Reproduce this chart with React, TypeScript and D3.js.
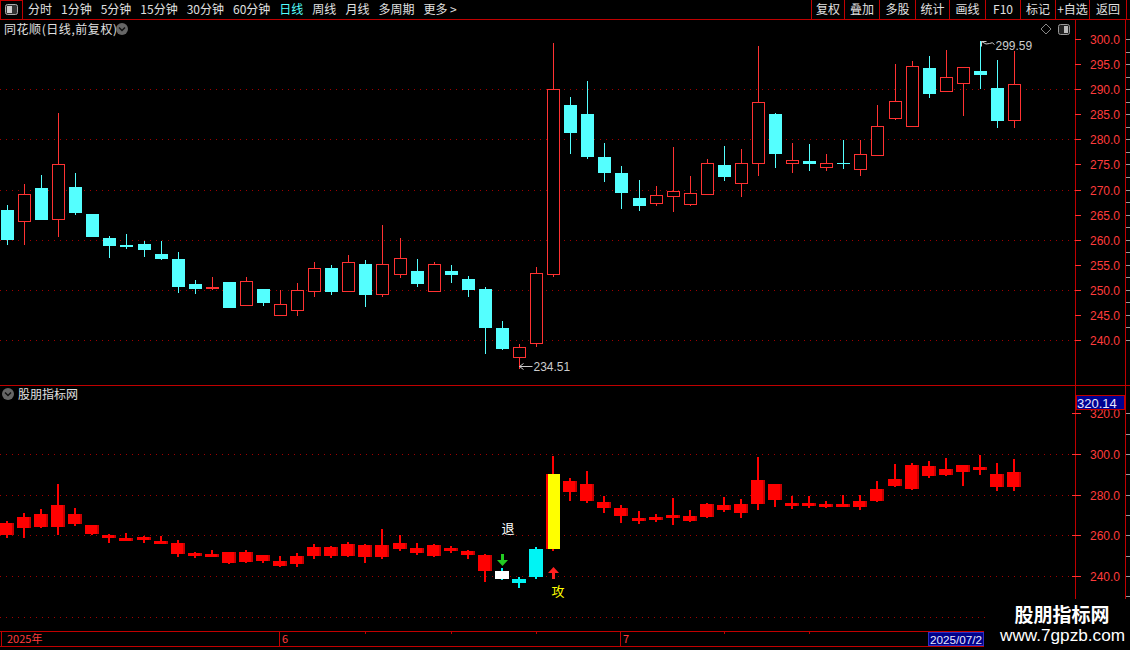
import { useRef, useEffect } from 'react';
import * as d3 from 'd3';

// K 線資料
const opens = [
  265.9, 263.8, 270.3, 264.1, 270.5, 265.1, 260.3, 258.9, 259.1, 257.1,
  256.1, 251.2, 250.3, 251.6, 247.0, 250.2, 245.0, 246.0, 249.8, 254.4,
  249.8, 255.2, 249.1, 253.1, 253.8, 249.7, 253.8, 252.2, 250.2, 242.4,
  236.7, 239.5, 253.2, 286.8, 285.1, 276.5, 273.3, 268.3, 267.4, 268.8,
  267.2, 269.2, 274.9, 271.2, 275.2, 285.1, 275.2, 275.7, 274.5, 275.25,
  274.1, 276.9, 284.3, 282.7, 294.2, 289.7, 291.2, 293.6, 290.2, 283.8,
];
const closes = [
  260.1, 269.2, 264.1, 275.1, 265.5, 260.7, 258.9, 258.8, 258.1, 256.3,
  250.8, 250.4, 250.6, 246.6, 251.8, 247.6, 247.2, 250.0, 254.4, 249.8,
  255.5, 249.2, 255.1, 256.3, 251.4, 255.1, 253.2, 250.2, 242.5, 238.5,
  238.7, 253.3, 290.0, 281.5, 276.7, 273.4, 269.6, 267.0, 268.9, 269.8,
  269.4, 275.2, 272.6, 275.2, 287.4, 277.3, 275.8, 275.3, 275.2, 275.2,
  277.0, 282.6, 287.6, 294.6, 289.3, 292.4, 294.4, 293.1, 283.9, 291.0,
];
const highs = [
  266.9, 271.1, 272.9, 285.2, 273.3, 265.1, 260.7, 261.1, 259.7, 259.7,
  257.5, 252.0, 252.6, 251.6, 252.6, 250.2, 250.0, 251.4, 255.6, 254.9,
  256.9, 255.9, 262.9, 260.3, 256.1, 255.5, 254.9, 252.8, 250.6, 243.8,
  239.3, 254.5, 299.2, 288.4, 291.6, 279.3, 274.7, 271.9, 270.7, 278.5,
  272.7, 276.1, 278.7, 278.1, 298.6, 285.3, 279.3, 279.1, 277.1, 279.9,
  279.9, 286.8, 295.0, 295.6, 296.6, 297.8, 294.4, 299.59, 295.8, 297.6,
];
const lows = [
  259.1, 259.1, 264.1, 260.8, 265.1, 260.7, 256.5, 258.3, 256.7, 256.1,
  249.6, 249.4, 250.2, 246.6, 247.0, 247.0, 245.0, 245.0, 248.8, 249.2,
  249.8, 246.8, 248.8, 252.6, 250.8, 249.7, 251.6, 248.8, 237.5, 238.3,
  234.51, 238.9, 252.8, 277.3, 276.3, 271.6, 266.4, 266.0, 267.0, 265.8,
  267.0, 269.2, 271.8, 268.8, 272.8, 274.5, 273.5, 273.9, 273.9, 274.3,
  272.8, 276.9, 284.1, 282.7, 288.5, 289.7, 284.9, 290.3, 282.5, 282.5,
];

const toolbarItems = ['分时', '1分钟', '5分钟', '15分钟', '30分钟', '60分钟', '日线', '周线', '月线', '多周期', '更多 >'];
const activeItem = '日线';
const rightButtons = ['复权', '叠加', '多股', '统计', '画线', 'F10', '标记', '+自选', '返回'];

const mainTicks = [300, 295, 290, 285, 280, 275, 270, 265, 260, 255, 250, 245, 240];
const mainGrid = [290, 280, 270, 260, 250, 240];
const lowerTicks = [320, 300, 280, 260, 240];
const lowerGrid = [300, 280, 260, 240, 220];
const monthLabels = [
  { index: 0, label: '2025年' },
  { index: 16, label: '6' },
  { index: 36, label: '7' },
];
// 副圖特殊顏色 K 線
const specialKinds: Record<number, string> = { 29: 'white', 30: 'cyan', 31: 'cyan', 32: 'yellow' };
const exitIndex = 29;   // 退
const attackIndex = 32; // 攻
const maxLabel = '299.59';
const minLabel = '234.51';
const lowerTopValue = '320.14';
const cursorDate = '2025/07/2';

const RED = '#ff3232';
const CYAN = '#54ffff';
const LINE = '#c00000';
const GRID = '#a00000';
const CJK = "'Noto Sans CJK SC', sans-serif";
const NUM = "'Liberation Sans', Arial, sans-serif";

export default function App() {
  const svgRef = useRef<SVGSVGElement | null>(null);

  useEffect(() => {
    const width = 1130, height = 650;
    const svg = d3.select(svgRef.current);
    svg.selectAll('*').remove();
    svg.attr('width', width).attr('height', height);

    svg.append('rect').attr('width', width).attr('height', height).attr('fill', '#000');

    const n = opens.length;
    const x = d3.scalePoint<number>().domain(d3.range(n)).range([7, 1014]);
    const yMain = d3.scaleLinear().domain([240, 300]).range([340, 39]);
    const yLow = d3.scaleLinear().domain([240, 300]).range([576, 454]);
    const axisX = 1075;

    // ---------------- 工具列
    const tb = svg.append('g');
    tb.append('line').attr('x1', 0).attr('x2', width).attr('y1', 19.5).attr('y2', 19.5).attr('stroke', LINE);
    tb.append('rect').attr('x', 0.5).attr('y', 0.5).attr('width', 22).attr('height', 19).attr('fill', 'none').attr('stroke', LINE);
    tb.append('rect').attr('x', 5.5).attr('y', 4.5).attr('width', 12).attr('height', 10).attr('rx', 2).attr('fill', '#333').attr('stroke', '#aaa');
    tb.append('rect').attr('x', 7).attr('y', 6).attr('width', 5).attr('height', 7).attr('fill', '#ccc');

    let tx = 28;
    toolbarItems.forEach(label => {
      const t = tb.append('text')
        .attr('x', tx).attr('y', 14)
        .attr('font-family', CJK).attr('font-size', 12)
        .attr('fill', label === activeItem ? CYAN : '#e0e0e0')
        .text(label);
      const len = (t.node() as SVGTextElement).getComputedTextLength();
      tx += len + 9;
    });

    const edges = [811, 844, 879, 915, 949, 985, 1020, 1055, 1089, 1126];
    edges.forEach(e => {
      tb.append('line').attr('x1', e + 0.5).attr('x2', e + 0.5).attr('y1', 0).attr('y2', 19).attr('stroke', LINE);
    });
    rightButtons.forEach((label, i) => {
      tb.append('text')
        .attr('x', (edges[i] + edges[i + 1]) / 2 + 0.5).attr('y', 14)
        .attr('text-anchor', 'middle')
        .attr('font-family', CJK).attr('font-size', 12)
        .attr('fill', '#e0e0e0')
        .text(label);
    });

    // ---------------- 面板框線
    const frame = svg.append('g');
    frame.append('line').attr('x1', 0).attr('x2', width).attr('y1', 385.5).attr('y2', 385.5).attr('stroke', LINE);
    frame.append('line').attr('x1', axisX + 0.5).attr('x2', axisX + 0.5).attr('y1', 20).attr('y2', 631).attr('stroke', LINE);
    frame.append('line').attr('x1', 1125.5).attr('x2', 1125.5).attr('y1', 20).attr('y2', 631).attr('stroke', LINE);

    // 標題
    svg.append('text').attr('x', 4).attr('y', 34)
      .attr('font-family', CJK).attr('font-size', 12).attr('fill', '#e0e0e0')
      .attr('textLength', 113).attr('lengthAdjust', 'spacing')
      .text('同花顺(日线,前复权)');
    const drawCircleIcon = (cx: number, cy: number) => {
      svg.append('circle').attr('cx', cx).attr('cy', cy).attr('r', 6).attr('fill', '#666');
      svg.append('path').attr('d', `M${cx - 3},${cy - 1.5} L${cx},${cy + 1.5} L${cx + 3},${cy - 1.5}`)
        .attr('fill', 'none').attr('stroke', '#111').attr('stroke-width', 1.5);
    };
    drawCircleIcon(122, 29);
    drawCircleIcon(8, 394);
    svg.append('text').attr('x', 18).attr('y', 399)
      .attr('font-family', CJK).attr('font-size', 12).attr('fill', '#e0e0e0')
      .text('股朋指标网');

    // 右上角小圖示
    svg.append('path').attr('d', 'M1046,24 L1051,29 L1046,34 L1041,29 Z').attr('fill', 'none').attr('stroke', '#888');
    svg.append('rect').attr('x', 1058.5).attr('y', 24.5).attr('width', 11).attr('height', 10).attr('rx', 2)
      .attr('fill', '#222').attr('stroke', '#999');
    svg.append('rect').attr('x', 1064).attr('y', 26).attr('width', 4).attr('height', 7).attr('fill', '#bbb');

    // ---------------- 網格線
    const grid = svg.append('g');
    mainGrid.forEach(v => {
      grid.append('line').attr('x1', 0).attr('x2', axisX).attr('y1', Math.round(yMain(v)) + 0.5).attr('y2', Math.round(yMain(v)) + 0.5)
        .attr('stroke', GRID).attr('stroke-dasharray', '1,5');
    });
    lowerGrid.forEach(v => {
      grid.append('line').attr('x1', 0).attr('x2', axisX).attr('y1', Math.round(yLow(v)) + 0.5).attr('y2', Math.round(yLow(v)) + 0.5)
        .attr('stroke', GRID).attr('stroke-dasharray', '1,5');
    });

    // ---------------- 右側座標
    const ax = svg.append('g');
    const defs = svg.append('defs');
    defs.append('clipPath').attr('id', 'below-box')
      .append('rect').attr('x', 1076).attr('y', 410).attr('width', 49).attr('height', 20);
    mainTicks.forEach(v => {
      const yy = Math.round(yMain(v)) + 0.5;
      ax.append('line').attr('x1', axisX).attr('x2', axisX + 6).attr('y1', yy).attr('y2', yy).attr('stroke', RED);
      ax.append('text').attr('x', 1120).attr('y', yy + 4.5).attr('text-anchor', 'end')
        .attr('font-family', NUM).attr('font-size', 12).attr('fill', '#ff3c3c').text(v.toFixed(1));
    });
    d3.range(240, 302.5, 2.5).forEach(v => {
      const yy = Math.round(yMain(v)) + 0.5;
      ax.append('line').attr('x1', 1126).attr('x2', 1130).attr('y1', yy).attr('y2', yy).attr('stroke', '#999');
    });
    lowerTicks.forEach(v => {
      const yy = Math.round(yLow(v)) + 0.5;
      ax.append('line').attr('x1', axisX).attr('x2', axisX + 6).attr('y1', yy).attr('y2', yy).attr('stroke', RED);
      ax.append('line').attr('x1', axisX - 3).attr('x2', axisX).attr('y1', yy).attr('y2', yy).attr('stroke', RED);
      const t = ax.append('text').attr('x', 1120).attr('y', yy + 4.5).attr('text-anchor', 'end')
        .attr('font-family', NUM).attr('font-size', 12).attr('fill', '#ff3c3c').text(v.toFixed(1));
      if (v === 320) t.attr('clip-path', 'url(#below-box)');
    });
    d3.range(230, 325, 10).forEach(v => {
      const yy = Math.round(yLow(v)) + 0.5;
      if (yy > 392 && yy < 598) ax.append('line').attr('x1', 1126).attr('x2', 1130).attr('y1', yy).attr('y2', yy).attr('stroke', '#999');
    });
    // 副圖最高值標籤
    ax.append('rect').attr('x', 1076.5).attr('y', 395.5).attr('width', 48).attr('height', 14)
      .attr('fill', '#000090').attr('stroke', LINE);
    ax.append('text').attr('x', 1077).attr('y', 407.5)
      .attr('font-family', NUM).attr('font-size', 13).attr('fill', '#e8e8ff').text(lowerTopValue);

    // ---------------- 主圖 K 線
    const main = svg.append('g').attr('shape-rendering', 'crispEdges');
    d3.range(n).forEach(i => {
      const cx = Math.round(x(i)!);
      const o = opens[i], c = closes[i];
      const up = c >= o;
      const color = up ? RED : CYAN;
      const top = Math.round(yMain(Math.max(o, c)));
      const bot = Math.round(yMain(Math.min(o, c)));
      main.append('line')
        .attr('x1', cx + 0.5).attr('x2', cx + 0.5)
        .attr('y1', Math.round(yMain(highs[i]))).attr('y2', Math.round(yMain(lows[i])) + 1)
        .attr('stroke', color);
      if (up) {
        main.append('rect')
          .attr('x', cx - 6 + 0.5).attr('y', top + 0.5)
          .attr('width', 12).attr('height', Math.max(1, bot - top))
          .attr('fill', '#000').attr('stroke', color);
      } else {
        main.append('rect')
          .attr('x', cx - 6).attr('y', top)
          .attr('width', 13).attr('height', Math.max(1, bot - top + 1))
          .attr('fill', color);
      }
    });

    // 最高、最低價標註
    const hiIdx = d3.maxIndex(highs);
    const loIdx = d3.minIndex(lows);
    const hx = Math.round(x(hiIdx)!) + 1.5, hy = Math.round(yMain(highs[hiIdx])) + 0.5;
    svg.append('path')
      .attr('d', `M${hx},${hy + 5} L${hx},${hy} L${hx + 5},${hy} M${hx},${hy} Q${hx + 5},${hy + 4} ${hx + 8},${hy + 2} T${hx + 13},${hy + 3}`)
      .attr('fill', 'none').attr('stroke', '#ccc');
    svg.append('text').attr('x', hx + 14).attr('y', hy + 8.5)
      .attr('font-family', NUM).attr('font-size', 12).attr('fill', '#ccc').text(maxLabel);
    const lx = Math.round(x(loIdx)!) + 0.5, ly = Math.round(yMain(lows[loIdx])) - 1.5;
    svg.append('path')
      .attr('d', `M${lx + 13},${ly} L${lx},${ly} M${lx + 4},${ly - 3} L${lx},${ly} L${lx + 4},${ly + 3}`)
      .attr('fill', 'none').attr('stroke', '#ccc');
    svg.append('text').attr('x', lx + 14).attr('y', ly + 4.5)
      .attr('font-family', NUM).attr('font-size', 12).attr('fill', '#ccc').text(minLabel);

    // ---------------- 副圖 K 線
    const lower = svg.append('g').attr('shape-rendering', 'crispEdges');
    const fillOf: Record<string, string> = { red: '#ff0000', white: '#ffffff', cyan: '#00f4f4', yellow: '#ffff00' };
    d3.range(n).forEach(i => {
      const cx = Math.round(x(i)!);
      const kind = specialKinds[i] || 'red';
      const top = Math.round(yLow(Math.max(opens[i], closes[i])));
      const bot = Math.round(yLow(Math.min(opens[i], closes[i])));
      const wickColor = kind === 'cyan' || kind === 'white' ? '#00f4f4' : '#ff0000';
      lower.append('rect')
        .attr('x', cx - 1).attr('width', 2)
        .attr('y', Math.round(yLow(highs[i]))).attr('height', Math.round(yLow(lows[i])) - Math.round(yLow(highs[i])) + 1)
        .attr('fill', wickColor);
      lower.append('rect')
        .attr('x', cx - 7).attr('width', 14)
        .attr('y', top).attr('height', Math.max(3, bot - top))
        .attr('fill', fillOf[kind]);
      if (kind === 'red') {
        lower.append('rect').attr('x', cx + 5).attr('width', 2)
          .attr('y', top).attr('height', Math.max(3, bot - top)).attr('fill', '#c80000');
      }
      if (kind === 'yellow') {
        lower.append('rect').attr('x', cx - 7).attr('width', 2)
          .attr('y', top).attr('height', Math.max(3, bot - top)).attr('fill', '#ff0000');
      }
    });

    // 退 / 攻 訊號
    const ex = Math.round(x(exitIndex)!);
    const eTip = Math.round(yLow(highs[exitIndex])) - 2;
    svg.append('rect').attr('x', ex - 1).attr('y', eTip - 12).attr('width', 3).attr('height', 7).attr('fill', '#22cc22');
    svg.append('path').attr('d', `M${ex - 5},${eTip - 6} L${ex + 6},${eTip - 6} L${ex + 0.5},${eTip} Z`).attr('fill', '#22cc22');
    svg.append('text').attr('x', ex + 6).attr('y', eTip - 33).attr('text-anchor', 'middle')
      .attr('font-family', CJK).attr('font-size', 13).attr('fill', '#fff').text('退');

    const ak = Math.round(x(attackIndex)!);
    const aTip = Math.round(yLow(lows[attackIndex])) + 17;
    svg.append('path').attr('d', `M${ak - 5},${aTip + 6} L${ak + 6},${aTip + 6} L${ak + 0.5},${aTip} Z`).attr('fill', '#ff2020');
    svg.append('rect').attr('x', ak - 1).attr('y', aTip + 5).attr('width', 3).attr('height', 7).attr('fill', '#ff2020');
    svg.append('text').attr('x', ak + 5).attr('y', aTip + 29).attr('text-anchor', 'middle')
      .attr('font-family', CJK).attr('font-size', 13).attr('fill', '#ffff00').text('攻');

    // ---------------- 底部日期列
    const bar = svg.append('g').attr('shape-rendering', 'crispEdges');
    bar.append('line').attr('x1', 0).attr('x2', 984).attr('y1', 631.5).attr('y2', 631.5).attr('stroke', LINE);
    bar.append('line').attr('x1', 0).attr('x2', 984).attr('y1', 646.5).attr('y2', 646.5).attr('stroke', LINE);
    bar.append('line').attr('x1', 1.5).attr('x2', 1.5).attr('y1', 631).attr('y2', 647).attr('stroke', LINE);
    monthLabels.forEach(m => {
      const mx = m.index === 0 ? 5 : Math.round(x(m.index)!);
      if (m.index !== 0) {
        bar.append('line').attr('x1', mx - 0.5).attr('x2', mx - 0.5).attr('y1', 631).attr('y2', 647).attr('stroke', LINE);
      }
      bar.append('text').attr('x', mx + 2).attr('y', 643)
        .attr('font-family', CJK).attr('font-size', 11).attr('fill', '#ff3c3c').text(m.label);
    });
    [21, 26, 31, 42, 47].forEach(i => {
      const mx = Math.round(x(i)!) + 0.5;
      bar.append('line').attr('x1', mx).attr('x2', mx).attr('y1', 631).attr('y2', 634).attr('stroke', LINE);
    });
    bar.append('rect').attr('x', 928.5).attr('y', 632.5).attr('width', 55).attr('height', 13)
      .attr('fill', '#00008a').attr('stroke', '#3030c0');
    bar.append('text').attr('x', 930).attr('y', 643.5)
      .attr('font-family', NUM).attr('font-size', 11).attr('fill', '#e8e8ff')
      .attr('textLength', 52).attr('lengthAdjust', 'spacingAndGlyphs').text(cursorDate);

    // ---------------- 浮水印
    svg.append('rect').attr('x', 986).attr('y', 599).attr('width', 144).attr('height', 51).attr('fill', '#000');
    svg.append('text').attr('x', 1062).attr('y', 622).attr('text-anchor', 'middle')
      .attr('font-family', CJK).attr('font-weight', 'bold').attr('font-size', 19).attr('fill', '#fff')
      .text('股朋指标网');
    svg.append('text').attr('x', 1000).attr('y', 641)
      .attr('font-family', NUM).attr('font-size', 17).attr('fill', '#fff')
      .attr('textLength', 125).attr('lengthAdjust', 'spacingAndGlyphs')
      .text('www.7gpzb.com');
  }, []);

  return (
    <svg ref={svgRef} style={{ position: 'absolute', left: 0, top: 0, display: 'block' }}></svg>
  );
}
